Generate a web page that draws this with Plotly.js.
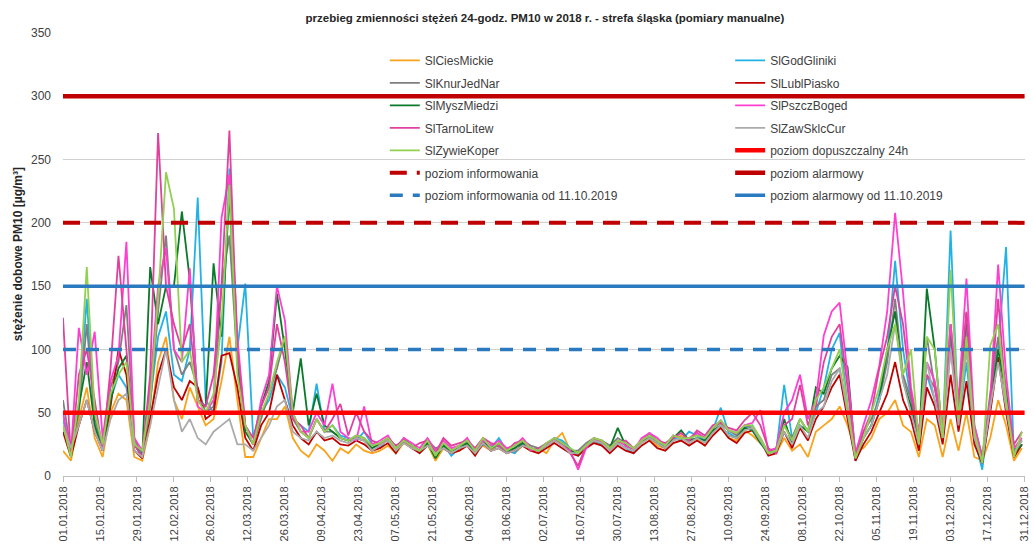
<!DOCTYPE html>
<html>
<head>
<meta charset="utf-8">
<script src="https://cdn.plot.ly/plotly-3.0.1.min.js"></script>
<style>
html,body{margin:0;padding:0;background:#fff;}
#chart{width:1034px;height:545px;}
</style>
</head>
<body>
<div id="chart"></div>
<script>
// Sampling: every 3rd day of 2018, starting 01.01.2018 (122 samples)
const stepDays = 3;
const nSamples = 122;

const seriesNames = ['SlCiesMickie','SlGodGliniki','SlKnurJedNar','SlLublPiasko','SlMyszMiedzi','SlPszczBoged','SlTarnoLitew','SlZawSklcCur','SlZywieKoper'];
const seriesColors = ['#F9A21B','#22B2E6','#7F7F7F','#C00000','#0A7A2A','#FF3FD0','#E0409E','#ABABAB','#92D050'];
const seriesLegend = ['legend','legend2','legend','legend2','legend','legend2','legend','legend2','legend'];

const SlCiesMickie = [
20,12,45,70,30,15,50,65,60,15,
12,40,90,110,60,45,70,55,40,45,
75,110,60,15,15,30,45,45,55,30,
20,15,25,20,12,22,18,25,20,18,
20,24,18,26,22,20,25,12,22,18,
20,25,18,24,20,26,22,18,24,20,
22,18,28,34,20,18,24,30,26,22,
28,24,20,26,30,24,22,28,32,26,
30,24,34,40,30,28,36,32,26,20,
18,30,20,25,15,35,40,45,55,40,
20,22,30,45,50,60,40,35,15,45,
40,15,45,20,50,15,12,30,60,40,
12,22];
const SlGodGliniki = [
45,18,55,140,40,25,60,80,70,25,
18,60,110,130,80,75,100,220,60,50,
90,243,100,152,30,50,60,80,70,45,
40,35,73,35,40,32,30,28,35,25,
22,30,20,28,24,18,26,20,25,16,
22,28,18,25,22,30,20,18,26,22,
20,24,30,28,22,16,22,28,24,20,
26,22,18,28,32,26,24,30,28,35,
32,28,36,54,34,30,38,40,28,18,
20,72,30,45,35,50,70,100,113,55,
12,30,40,65,95,170,100,60,25,80,
60,30,194,40,90,30,5,60,100,181,
15,25];
const SlKnurJedNar = [
60,20,50,120,45,25,70,90,135,30,
15,55,130,190,100,80,90,70,50,55,
150,190,90,40,25,45,65,85,110,45,
35,30,45,35,35,30,28,32,30,22,
25,28,22,30,24,20,28,22,24,20,
24,26,20,28,22,24,18,22,28,24,
22,26,30,24,20,20,26,30,28,24,
30,26,22,28,34,28,24,32,30,28,
34,30,38,42,36,32,40,38,30,18,
22,40,30,45,35,55,60,80,85,50,
15,35,45,60,90,140,80,60,30,110,
70,35,110,50,120,40,15,65,110,70,
20,28];
const SlLublPiasko = [
35,15,40,60,35,20,55,100,80,20,
14,45,80,100,70,60,75,70,45,50,
95,97,70,30,20,40,50,80,60,40,
30,25,35,28,30,25,24,28,25,20,
22,26,18,28,22,18,24,20,22,18,
20,24,16,26,20,22,18,20,24,20,
18,22,26,22,18,16,22,26,24,18,
24,20,18,24,28,22,20,26,28,24,
28,24,32,38,30,26,34,36,28,16,
18,35,22,38,28,45,55,70,80,45,
12,25,35,50,65,90,60,45,20,70,
55,25,80,35,75,25,10,50,94,50,
15,25];
const SlMyszMiedzi = [
40,20,55,90,40,20,60,85,95,25,
15,165,120,150,150,209,155,60,55,168,
110,224,90,35,25,55,75,144,100,50,
93,40,65,40,35,30,28,30,28,22,
26,30,20,28,24,20,26,14,24,20,
22,26,18,28,22,26,20,22,26,22,
20,24,28,26,20,18,24,28,26,22,
38,24,20,28,30,26,22,30,36,28,
30,28,36,40,32,30,38,36,26,18,
20,45,25,40,35,70,65,85,95,86,
14,30,40,60,100,130,75,55,25,148,
100,30,120,45,129,35,12,55,100,65,
18,25];
const SlPszczBoged = [
50,18,117,80,114,30,75,95,185,30,
20,70,150,180,100,90,164,55,50,60,
204,238,110,40,25,60,80,150,123,50,
35,35,50,40,73,35,30,28,55,25,
28,32,22,30,26,22,30,20,28,22,
24,30,20,28,24,28,22,24,30,22,
20,26,28,24,20,5,22,30,26,22,
28,24,20,30,34,30,24,32,30,30,
34,30,38,44,36,34,40,42,52,20,
22,50,60,80,45,60,111,130,137,80,
18,40,60,87,130,208,145,70,35,90,
75,40,120,60,156,40,15,60,167,80,
22,30];
const SlTarnoLitew = [
125,15,80,100,60,20,85,174,100,25,
15,80,271,150,120,100,120,60,55,80,
150,273,100,40,30,55,70,120,90,45,
40,30,45,35,45,57,32,50,35,28,
25,30,24,28,22,26,28,18,30,24,
26,28,22,30,26,24,20,26,28,20,
22,24,30,26,18,8,24,28,28,20,
26,28,22,28,32,28,26,30,34,28,
36,32,40,42,38,36,44,50,40,22,
18,40,45,72,40,55,90,110,120,70,
15,35,50,85,110,150,120,65,30,80,
70,35,100,55,130,35,15,55,140,60,
25,35];
const SlZawSklcCur = [
40,22,40,60,35,20,45,60,65,20,
15,40,70,100,60,35,45,30,25,35,
40,45,25,25,20,30,40,55,60,35,
30,28,35,30,32,28,26,30,28,20,
24,28,20,26,22,20,24,18,22,18,
22,24,18,26,20,22,18,20,24,22,
20,24,28,24,18,18,24,28,26,20,
26,22,20,26,30,26,22,28,30,26,
30,26,34,40,32,30,36,38,28,18,
20,35,25,40,30,50,55,75,85,50,
14,30,40,60,80,120,75,50,25,90,
60,30,100,40,100,30,12,55,90,55,
18,28];
const SlZywieKoper = [
40,15,60,165,50,25,65,80,90,25,
20,60,140,240,211,90,100,60,50,65,
120,230,80,40,25,50,65,90,110,50,
35,30,45,35,40,30,28,32,30,24,
26,30,22,28,24,20,28,16,26,20,
24,28,20,30,22,26,20,24,28,22,
20,26,30,26,22,18,24,30,28,22,
28,26,22,28,32,28,24,32,30,30,
32,30,38,44,36,34,40,40,30,18,
20,40,28,45,35,60,70,85,100,55,
14,30,50,70,100,120,80,100,25,110,
100,30,163,45,110,35,10,103,120,60,
15,35];

const seriesValues = [SlCiesMickie,SlGodGliniki,SlKnurJedNar,SlLublPiasko,SlMyszMiedzi,SlPszczBoged,SlTarnoLitew,SlZawSklcCur,SlZywieKoper];

// Reference levels
const levelNames = ['poziom dopuszczalny 24h','poziom informowania','poziom alarmowy','poziom informowania od 11.10.2019','poziom alarmowy od 11.10.2019'];
const levelValues = [50, 200, 300, 100, 150];
const levelColors = ['#FF0000','#C00000','#C00000','#2A7ABF','#2A7ABF'];
const levelDash = ['solid','17px,10px','solid','13px,10px','solid'];
const levelWidth = [4.5, 4, 4.5, 3.5, 3.5];
const levelLegend = ['legend2','legend','legend2','legend','legend2'];
const yearStart = '2018-01-01';
const yearEnd = '2018-12-31';
const axisEnd = '2018-12-31 04:00';

const tickStart = '2018-01-01';
const tickStepDays = 14;

// build dates
const dates = [];
const base = Date.UTC(2018,0,1);
for (let i = 0; i < nSamples; i++) {
  const d = new Date(base + i*stepDays*86400000);
  dates.push(d.toISOString().slice(0,10));
}

const traces = [];
seriesNames.forEach((name, k) => {
  traces.push({
    type: 'scatter', mode: 'lines', name: name,
    x: dates, y: seriesValues[k],
    line: {color: seriesColors[k], width: 1.8},
    legend: seriesLegend[k], legendgroup: 'g' + k,
    hoverinfo: 'skip'
  });
});
levelNames.forEach((name, k) => {
  traces.push({
    type: 'scatter', mode: 'lines', name: name,
    x: [yearStart, yearEnd], y: [levelValues[k], levelValues[k]],
    line: {color: levelColors[k], width: levelWidth[k], dash: levelDash[k]},
    legend: levelLegend[k], legendgroup: 'L' + k,
    hoverinfo: 'skip'
  });
});

const font = 'Liberation Sans, Arial, sans-serif';
const legendCommon = {
  orientation: 'v',
  yanchor: 'top', y: 0.971,
  xanchor: 'left',
  bgcolor: 'rgba(0,0,0,0)',
  font: {family: font, size: 12, color: '#404040'},
  tracegroupgap: 3.5,
  traceorder: 'grouped'
};
const layout = {
  width: 1034, height: 545,
  margin: {l: 63, r: 9, t: 33, b: 69},
  paper_bgcolor: '#fff', plot_bgcolor: '#fff',
  font: {family: font, size: 11, color: '#404040'},
  title: {
    text: '<b>przebieg zmienności stężeń 24-godz. PM10 w 2018 r. - strefa śląska (pomiary manualne)</b>',
    font: {family: font, size: 11.5, color: '#262626'},
    x: 0.527, xanchor: 'center', y: 0.967, yanchor: 'middle'
  },
  xaxis: {
    type: 'date',
    range: [yearStart, axisEnd],
    tick0: tickStart,
    dtick: tickStepDays*86400000,
    tickformat: '%d.%m.%Y',
    tickangle: -90,
    ticklabeloverflow: 'allow',
    tickfont: {family: font, size: 11, color: '#404040'},
    ticks: 'outside', ticklen: 5, tickcolor: '#BFBFBF',
    showgrid: false, zeroline: false,
    showline: true, linecolor: '#BFBFBF', linewidth: 1
  },
  yaxis: {
    range: [0, 350], dtick: 50, tick0: 0,
    tickfont: {family: font, size: 12, color: '#404040'},
    showgrid: true, gridcolor: '#D0D0D0', gridwidth: 1,
    zeroline: false, showline: false,
    ticks: '', ticklabelstandoff: 11
  },
  showlegend: true,
  legend: Object.assign({}, legendCommon, {x: 0.3345}),
  legend2: Object.assign({}, legendCommon, {x: 0.6935}),
  annotations: [{
    text: '<b>stężenie dobowe PM10 [µg/m³]</b>',
    xref: 'paper', yref: 'paper',
    x: -0.047, y: 0.5, xanchor: 'center', yanchor: 'middle',
    textangle: -90, showarrow: false,
    font: {family: font, size: 12, color: '#262626'}
  }]
};

Plotly.newPlot('chart', traces, layout, {staticPlot: true, displayModeBar: false});
</script>
</body>
</html>
